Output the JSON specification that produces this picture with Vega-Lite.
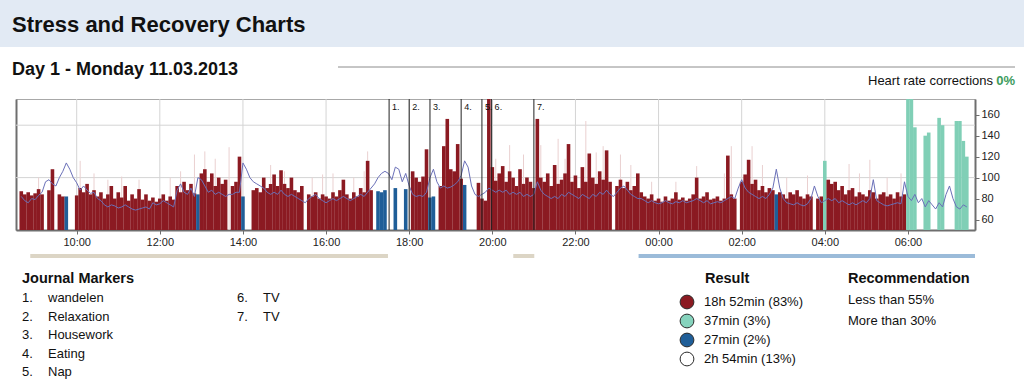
{
"$schema": "https://vega.github.io/schema/vega-lite/v6.json",
"padding": 0,
"background": "white",
"spacing": 0,
"resolve": {"scale": {"color": "independent", "fill": "independent"}},
"config": {
  "font": "Liberation Sans",
  "view": {"stroke": null},
  "title": {"font": "Liberation Sans", "color": "#111111", "anchor": "start", "frame": "group", "offset": 0},
  "axisX": {"format": "%H:%M", "grid": true, "gridColor": "#d4d4d4", "gridWidth": 1, "domainColor": "#6e6e6e", "domainWidth": 2, "tickColor": "#6e6e6e", "tickSize": 4, "labelFontSize": 11, "labelColor": "#222222", "labelPadding": 2, "labelFlush": false, "title": null}
},
"datasets": {
  "series": [
{"t":"2013-03-11T08:40","v":87,"h":82,"c":"S"},
{"t":"2013-03-11T08:45","v":84,"h":78,"c":"S"},
{"t":"2013-03-11T08:50","v":86,"h":76,"c":"S"},
{"t":"2013-03-11T08:55","v":83,"h":80,"c":"S"},
{"t":"2013-03-11T09:00","v":85,"h":79,"c":"S"},
{"t":"2013-03-11T09:05","v":89,"h":83,"c":"S","p":100},
{"t":"2013-03-11T09:10","v":84,"h":86,"c":"S"},
{"t":"2013-03-11T09:15","h":96,"c":"N"},
{"t":"2013-03-11T09:20","v":88,"h":98,"c":"S"},
{"t":"2013-03-11T09:25","v":108,"h":94,"c":"S"},
{"t":"2013-03-11T09:30","h":92,"c":"N"},
{"t":"2013-03-11T09:35","v":84,"h":100,"c":"S"},
{"t":"2013-03-11T09:40","v":82,"h":106,"c":"S"},
{"t":"2013-03-11T09:45","v":82,"h":114,"c":"R"},
{"t":"2013-03-11T09:50","h":108,"c":"N"},
{"t":"2013-03-11T09:55","h":100,"c":"N"},
{"t":"2013-03-11T10:00","v":83,"h":95,"c":"S"},
{"t":"2013-03-11T10:05","v":90,"h":88,"c":"S","p":116},
{"t":"2013-03-11T10:10","v":86,"h":92,"c":"S"},
{"t":"2013-03-11T10:15","v":94,"h":88,"c":"S"},
{"t":"2013-03-11T10:20","v":84,"h":85,"c":"S"},
{"t":"2013-03-11T10:25","v":88,"h":86,"c":"S","p":104},
{"t":"2013-03-11T10:30","v":82,"h":80,"c":"S"},
{"t":"2013-03-11T10:35","v":86,"h":78,"c":"S"},
{"t":"2013-03-11T10:40","v":80,"h":74,"c":"S"},
{"t":"2013-03-11T10:45","v":84,"h":72,"c":"S","p":98},
{"t":"2013-03-11T10:50","v":92,"h":74,"c":"S"},
{"t":"2013-03-11T10:55","v":80,"h":73,"c":"S"},
{"t":"2013-03-11T11:00","v":86,"h":71,"c":"S"},
{"t":"2013-03-11T11:05","v":81,"h":72,"c":"S","p":101},
{"t":"2013-03-11T11:10","v":92,"h":74,"c":"S"},
{"t":"2013-03-11T11:15","v":78,"h":72,"c":"S"},
{"t":"2013-03-11T11:20","v":84,"h":70,"c":"S"},
{"t":"2013-03-11T11:25","v":80,"h":69,"c":"S"},
{"t":"2013-03-11T11:30","v":89,"h":70,"c":"S","p":98},
{"t":"2013-03-11T11:35","v":79,"h":71,"c":"S"},
{"t":"2013-03-11T11:40","v":84,"h":72,"c":"S"},
{"t":"2013-03-11T11:45","v":78,"h":70,"c":"S"},
{"t":"2013-03-11T11:50","v":81,"h":76,"c":"S"},
{"t":"2013-03-11T11:55","v":77,"h":74,"c":"S"},
{"t":"2013-03-11T12:00","v":80,"h":75,"c":"S"},
{"t":"2013-03-11T12:05","v":84,"h":78,"c":"S"},
{"t":"2013-03-11T12:10","v":78,"h":76,"c":"S"},
{"t":"2013-03-11T12:15","v":82,"h":74,"c":"S","p":100},
{"t":"2013-03-11T12:20","v":79,"h":72,"c":"S"},
{"t":"2013-03-11T12:25","v":92,"h":88,"c":"S"},
{"t":"2013-03-11T12:30","v":86,"h":94,"c":"S","p":106},
{"t":"2013-03-11T12:35","v":96,"h":86,"c":"S"},
{"t":"2013-03-11T12:40","v":88,"h":84,"c":"S"},
{"t":"2013-03-11T12:45","v":94,"h":90,"c":"S"},
{"t":"2013-03-11T12:50","v":85,"h":82,"c":"S","p":122},
{"t":"2013-03-11T12:55","v":84,"h":100,"c":"R"},
{"t":"2013-03-11T13:00","v":104,"h":98,"c":"S"},
{"t":"2013-03-11T13:05","v":108,"h":92,"c":"S","p":125},
{"t":"2013-03-11T13:10","v":96,"h":86,"c":"S"},
{"t":"2013-03-11T13:15","v":104,"h":88,"c":"S"},
{"t":"2013-03-11T13:20","v":92,"h":84,"c":"S","p":118},
{"t":"2013-03-11T13:25","v":100,"h":86,"c":"S"},
{"t":"2013-03-11T13:30","v":94,"h":84,"c":"S"},
{"t":"2013-03-11T13:35","v":98,"h":82,"c":"S"},
{"t":"2013-03-11T13:40","h":84,"c":"N","p":129},
{"t":"2013-03-11T13:45","v":92,"h":84,"c":"S"},
{"t":"2013-03-11T13:50","v":96,"h":86,"c":"S"},
{"t":"2013-03-11T13:55","v":120,"h":86,"c":"S"},
{"t":"2013-03-11T14:00","v":82,"h":114,"c":"R"},
{"t":"2013-03-11T14:05","h":108,"c":"N"},
{"t":"2013-03-11T14:10","h":100,"c":"N"},
{"t":"2013-03-11T14:15","v":88,"h":96,"c":"S"},
{"t":"2013-03-11T14:20","v":90,"h":94,"c":"S"},
{"t":"2013-03-11T14:25","v":86,"h":92,"c":"S"},
{"t":"2013-03-11T14:30","v":100,"h":90,"c":"S"},
{"t":"2013-03-11T14:35","v":90,"h":86,"c":"S"},
{"t":"2013-03-11T14:40","v":94,"h":84,"c":"S","p":112},
{"t":"2013-03-11T14:45","v":103,"h":86,"c":"S"},
{"t":"2013-03-11T14:50","v":92,"h":84,"c":"S"},
{"t":"2013-03-11T14:55","v":107,"h":88,"c":"S"},
{"t":"2013-03-11T15:00","v":94,"h":84,"c":"S","p":106},
{"t":"2013-03-11T15:05","v":90,"h":82,"c":"S"},
{"t":"2013-03-11T15:10","v":100,"h":84,"c":"S"},
{"t":"2013-03-11T15:15","v":88,"h":82,"c":"S"},
{"t":"2013-03-11T15:20","v":86,"h":80,"c":"S"},
{"t":"2013-03-11T15:25","v":92,"h":78,"c":"S"},
{"t":"2013-03-11T15:30","h":76,"c":"N"},
{"t":"2013-03-11T15:35","v":84,"h":80,"c":"S"},
{"t":"2013-03-11T15:40","v":82,"h":82,"c":"S","p":100},
{"t":"2013-03-11T15:45","v":86,"h":84,"c":"S"},
{"t":"2013-03-11T15:50","v":80,"h":80,"c":"S"},
{"t":"2013-03-11T15:55","v":84,"h":78,"c":"S","p":103},
{"t":"2013-03-11T16:00","v":82,"h":76,"c":"S"},
{"t":"2013-03-11T16:05","v":80,"h":78,"c":"S"},
{"t":"2013-03-11T16:10","v":86,"h":80,"c":"S","p":104},
{"t":"2013-03-11T16:15","v":82,"h":78,"c":"S"},
{"t":"2013-03-11T16:20","v":88,"h":80,"c":"S"},
{"t":"2013-03-11T16:25","v":98,"h":82,"c":"S"},
{"t":"2013-03-11T16:30","v":84,"h":80,"c":"S"},
{"t":"2013-03-11T16:35","v":80,"h":78,"c":"S"},
{"t":"2013-03-11T16:40","v":86,"h":80,"c":"S","p":100},
{"t":"2013-03-11T16:45","v":82,"h":82,"c":"S"},
{"t":"2013-03-11T16:50","v":90,"h":84,"c":"S"},
{"t":"2013-03-11T16:55","v":86,"h":82,"c":"S","p":106},
{"t":"2013-03-11T17:00","v":116,"h":86,"c":"S","p":125},
{"t":"2013-03-11T17:05","v":88,"h":90,"c":"S"},
{"t":"2013-03-11T17:10","h":94,"c":"N"},
{"t":"2013-03-11T17:15","v":87,"h":100,"c":"R"},
{"t":"2013-03-11T17:20","v":86,"h":104,"c":"R"},
{"t":"2013-03-11T17:25","v":88,"h":106,"c":"R"},
{"t":"2013-03-11T17:30","h":104,"c":"N"},
{"t":"2013-03-11T17:35","h":98,"c":"N"},
{"t":"2013-03-11T17:40","v":90,"h":110,"c":"R"},
{"t":"2013-03-11T17:45","h":108,"c":"N"},
{"t":"2013-03-11T17:50","h":96,"c":"N"},
{"t":"2013-03-11T17:55","v":89,"h":104,"c":"R"},
{"t":"2013-03-11T18:00","h":92,"c":"N"},
{"t":"2013-03-11T18:05","v":106,"h":84,"c":"S"},
{"t":"2013-03-11T18:10","v":100,"h":82,"c":"S"},
{"t":"2013-03-11T18:15","v":96,"h":83,"c":"S"},
{"t":"2013-03-11T18:20","v":101,"h":82,"c":"S"},
{"t":"2013-03-11T18:25","v":127,"h":86,"c":"S"},
{"t":"2013-03-11T18:30","v":81,"h":100,"c":"R"},
{"t":"2013-03-11T18:35","v":82,"h":108,"c":"R"},
{"t":"2013-03-11T18:40","h":96,"c":"N"},
{"t":"2013-03-11T18:45","v":92,"h":90,"c":"S"},
{"t":"2013-03-11T18:50","v":130,"h":92,"c":"S"},
{"t":"2013-03-11T18:55","v":156,"h":90,"c":"S"},
{"t":"2013-03-11T19:00","v":108,"h":91,"c":"S"},
{"t":"2013-03-11T19:05","v":106,"h":93,"c":"S"},
{"t":"2013-03-11T19:10","v":132,"h":96,"c":"S"},
{"t":"2013-03-11T19:15","v":99,"h":102,"c":"S"},
{"t":"2013-03-11T19:20","v":93,"h":116,"c":"R"},
{"t":"2013-03-11T19:25","h":110,"c":"N"},
{"t":"2013-03-11T19:30","h":92,"c":"N"},
{"t":"2013-03-11T19:35","h":84,"c":"N"},
{"t":"2013-03-11T19:40","v":95,"h":82,"c":"S"},
{"t":"2013-03-11T19:45","v":80,"h":84,"c":"S"},
{"t":"2013-03-11T19:50","v":78,"h":86,"c":"S"},
{"t":"2013-03-11T19:55","v":175,"h":90,"c":"S"},
{"t":"2013-03-11T20:00","v":110,"h":88,"c":"S"},
{"t":"2013-03-11T20:05","v":97,"h":86,"c":"S","p":118},
{"t":"2013-03-11T20:10","v":104,"h":88,"c":"S"},
{"t":"2013-03-11T20:15","v":111,"h":86,"c":"S"},
{"t":"2013-03-11T20:20","v":96,"h":88,"c":"S"},
{"t":"2013-03-11T20:25","v":106,"h":84,"c":"S","p":131},
{"t":"2013-03-11T20:30","v":100,"h":86,"c":"S"},
{"t":"2013-03-11T20:35","v":92,"h":84,"c":"S"},
{"t":"2013-03-11T20:40","v":108,"h":86,"c":"S"},
{"t":"2013-03-11T20:45","v":94,"h":82,"c":"S","p":122},
{"t":"2013-03-11T20:50","v":100,"h":84,"c":"S"},
{"t":"2013-03-11T20:55","v":96,"h":82,"c":"S"},
{"t":"2013-03-11T21:00","v":90,"h":84,"c":"S"},
{"t":"2013-03-11T21:05","v":156,"h":96,"c":"S"},
{"t":"2013-03-11T21:10","v":100,"h":88,"c":"S","p":131},
{"t":"2013-03-11T21:15","v":96,"h":84,"c":"S"},
{"t":"2013-03-11T21:20","v":104,"h":82,"c":"S"},
{"t":"2013-03-11T21:25","v":92,"h":80,"c":"S"},
{"t":"2013-03-11T21:30","v":112,"h":82,"c":"S"},
{"t":"2013-03-11T21:35","v":94,"h":80,"c":"S","p":137},
{"t":"2013-03-11T21:40","v":98,"h":84,"c":"S"},
{"t":"2013-03-11T21:45","v":104,"h":82,"c":"S","p":118},
{"t":"2013-03-11T21:50","v":132,"h":86,"c":"S"},
{"t":"2013-03-11T21:55","v":96,"h":84,"c":"S"},
{"t":"2013-03-11T22:00","v":102,"h":82,"c":"S"},
{"t":"2013-03-11T22:05","v":90,"h":80,"c":"S"},
{"t":"2013-03-11T22:10","v":110,"h":84,"c":"S"},
{"t":"2013-03-11T22:15","v":96,"h":82,"c":"S","p":154},
{"t":"2013-03-11T22:20","v":123,"h":80,"c":"S"},
{"t":"2013-03-11T22:25","v":100,"h":84,"c":"S"},
{"t":"2013-03-11T22:30","v":94,"h":82,"c":"S","p":124},
{"t":"2013-03-11T22:35","v":106,"h":86,"c":"S"},
{"t":"2013-03-11T22:40","v":98,"h":84,"c":"S","p":130},
{"t":"2013-03-11T22:45","v":126,"h":88,"c":"S"},
{"t":"2013-03-11T22:50","v":96,"h":84,"c":"S"},
{"t":"2013-03-11T22:55","h":82,"c":"N"},
{"t":"2013-03-11T23:00","v":92,"h":86,"c":"S"},
{"t":"2013-03-11T23:05","v":98,"h":90,"c":"S","p":122},
{"t":"2013-03-11T23:10","v":90,"h":92,"c":"S"},
{"t":"2013-03-11T23:15","v":96,"h":88,"c":"S"},
{"t":"2013-03-11T23:20","v":88,"h":84,"c":"S","p":112},
{"t":"2013-03-11T23:25","v":92,"h":82,"c":"S"},
{"t":"2013-03-11T23:30","v":104,"h":80,"c":"S"},
{"t":"2013-03-11T23:35","v":86,"h":80,"c":"S"},
{"t":"2013-03-11T23:40","v":82,"h":78,"c":"S"},
{"t":"2013-03-11T23:45","v":80,"h":76,"c":"S"},
{"t":"2013-03-11T23:50","v":84,"h":78,"c":"S","p":96},
{"t":"2013-03-11T23:55","v":78,"h":76,"c":"S"},
{"t":"2013-03-12T00:00","v":80,"h":75,"c":"S"},
{"t":"2013-03-12T00:05","v":77,"h":76,"c":"S"},
{"t":"2013-03-12T00:10","v":82,"h":78,"c":"S"},
{"t":"2013-03-12T00:15","v":78,"h":76,"c":"S"},
{"t":"2013-03-12T00:20","v":80,"h":75,"c":"S"},
{"t":"2013-03-12T00:25","v":86,"h":77,"c":"S","p":96},
{"t":"2013-03-12T00:30","v":79,"h":76,"c":"S"},
{"t":"2013-03-12T00:35","v":81,"h":78,"c":"S"},
{"t":"2013-03-12T00:40","v":78,"h":76,"c":"S"},
{"t":"2013-03-12T00:45","v":80,"h":77,"c":"S"},
{"t":"2013-03-12T00:50","v":84,"h":78,"c":"S"},
{"t":"2013-03-12T00:55","v":100,"h":80,"c":"S","p":111},
{"t":"2013-03-12T01:00","v":80,"h":78,"c":"S"},
{"t":"2013-03-12T01:05","v":82,"h":76,"c":"S"},
{"t":"2013-03-12T01:10","v":86,"h":78,"c":"S"},
{"t":"2013-03-12T01:15","v":79,"h":75,"c":"S"},
{"t":"2013-03-12T01:20","v":80,"h":76,"c":"S"},
{"t":"2013-03-12T01:25","v":82,"h":77,"c":"S"},
{"t":"2013-03-12T01:30","v":78,"h":76,"c":"S"},
{"t":"2013-03-12T01:35","v":80,"h":78,"c":"S","p":104},
{"t":"2013-03-12T01:40","v":121,"h":80,"c":"S"},
{"t":"2013-03-12T01:45","v":84,"h":82,"c":"S","p":130},
{"t":"2013-03-12T01:50","v":80,"h":80,"c":"S"},
{"t":"2013-03-12T01:55","h":90,"c":"N"},
{"t":"2013-03-12T02:00","v":96,"h":98,"c":"S"},
{"t":"2013-03-12T02:05","v":103,"h":90,"c":"S"},
{"t":"2013-03-12T02:10","v":117,"h":86,"c":"S"},
{"t":"2013-03-12T02:15","v":94,"h":84,"c":"S","p":130},
{"t":"2013-03-12T02:20","v":98,"h":82,"c":"S"},
{"t":"2013-03-12T02:25","v":88,"h":80,"c":"S"},
{"t":"2013-03-12T02:30","v":92,"h":82,"c":"S","p":112},
{"t":"2013-03-12T02:35","v":86,"h":80,"c":"S"},
{"t":"2013-03-12T02:40","v":90,"h":84,"c":"S"},
{"t":"2013-03-12T02:45","v":88,"h":90,"c":"S"},
{"t":"2013-03-12T02:50","v":84,"h":108,"c":"R"},
{"t":"2013-03-12T02:55","v":86,"h":90,"c":"S"},
{"t":"2013-03-12T03:00","v":84,"h":80,"c":"S"},
{"t":"2013-03-12T03:05","v":80,"h":76,"c":"S","p":100},
{"t":"2013-03-12T03:10","v":86,"h":75,"c":"S"},
{"t":"2013-03-12T03:15","v":84,"h":74,"c":"S"},
{"t":"2013-03-12T03:20","v":88,"h":76,"c":"S"},
{"t":"2013-03-12T03:25","v":82,"h":74,"c":"S"},
{"t":"2013-03-12T03:30","v":80,"h":73,"c":"S"},
{"t":"2013-03-12T03:35","v":84,"h":75,"c":"S","p":102},
{"t":"2013-03-12T03:40","v":82,"h":80,"c":"S"},
{"t":"2013-03-12T03:45","h":92,"c":"N"},
{"t":"2013-03-12T03:50","v":80,"h":82,"c":"S"},
{"t":"2013-03-12T03:55","v":82,"h":76,"c":"S"},
{"t":"2013-03-12T04:00","v":116,"h":78,"c":"A"},
{"t":"2013-03-12T04:05","v":98,"h":80,"c":"S"},
{"t":"2013-03-12T04:10","v":94,"h":78,"c":"S"},
{"t":"2013-03-12T04:15","v":96,"h":80,"c":"S"},
{"t":"2013-03-12T04:20","v":88,"h":76,"c":"S"},
{"t":"2013-03-12T04:25","v":92,"h":78,"c":"S"},
{"t":"2013-03-12T04:30","v":84,"h":76,"c":"S"},
{"t":"2013-03-12T04:35","v":88,"h":74,"c":"S","p":113},
{"t":"2013-03-12T04:40","v":90,"h":76,"c":"S"},
{"t":"2013-03-12T04:45","v":82,"h":74,"c":"S"},
{"t":"2013-03-12T04:50","v":86,"h":76,"c":"S","p":104},
{"t":"2013-03-12T04:55","v":84,"h":78,"c":"S"},
{"t":"2013-03-12T05:00","v":82,"h":76,"c":"S"},
{"t":"2013-03-12T05:05","v":88,"h":80,"c":"S","p":117},
{"t":"2013-03-12T05:10","v":86,"h":98,"c":"S"},
{"t":"2013-03-12T05:15","v":80,"h":78,"c":"S"},
{"t":"2013-03-12T05:20","v":84,"h":76,"c":"S"},
{"t":"2013-03-12T05:25","v":86,"h":74,"c":"S"},
{"t":"2013-03-12T05:30","v":82,"h":73,"c":"S","p":100},
{"t":"2013-03-12T05:35","v":84,"h":74,"c":"S"},
{"t":"2013-03-12T05:40","v":80,"h":75,"c":"S"},
{"t":"2013-03-12T05:45","v":86,"h":76,"c":"S"},
{"t":"2013-03-12T05:50","v":82,"h":75,"c":"S","p":104},
{"t":"2013-03-12T05:55","v":84,"h":96,"c":"S"},
{"t":"2013-03-12T06:00","v":175,"h":82,"c":"A"},
{"t":"2013-03-12T06:05","v":175,"h":78,"c":"A"},
{"t":"2013-03-12T06:10","v":148,"h":84,"c":"A"},
{"t":"2013-03-12T06:15","h":76,"c":"N"},
{"t":"2013-03-12T06:20","h":80,"c":"N"},
{"t":"2013-03-12T06:25","v":140,"h":72,"c":"A"},
{"t":"2013-03-12T06:30","v":143,"h":78,"c":"A"},
{"t":"2013-03-12T06:35","h":74,"c":"N"},
{"t":"2013-03-12T06:40","h":70,"c":"N"},
{"t":"2013-03-12T06:45","v":157,"h":76,"c":"A"},
{"t":"2013-03-12T06:50","v":150,"h":72,"c":"A"},
{"t":"2013-03-12T06:55","h":84,"c":"N"},
{"t":"2013-03-12T07:00","h":92,"c":"N"},
{"t":"2013-03-12T07:05","h":80,"c":"N"},
{"t":"2013-03-12T07:10","v":154,"h":72,"c":"A"},
{"t":"2013-03-12T07:15","v":154,"h":70,"c":"A"},
{"t":"2013-03-12T07:20","v":135,"h":74,"c":"A"},
{"t":"2013-03-12T07:25","v":120,"h":72,"c":"A"}
  ],
  "markers": [
    {"id": 1, "n": "1.", "t": "2013-03-11T17:31", "label": "wandelen"},
    {"id": 2, "n": "2.", "t": "2013-03-11T18:00", "label": "Relaxation"},
    {"id": 3, "n": "3.", "t": "2013-03-11T18:30", "label": "Housework"},
    {"id": 4, "n": "4.", "t": "2013-03-11T19:15", "label": "Eating"},
    {"id": 5, "n": "5.", "t": "2013-03-11T19:45", "label": "Nap"},
    {"id": 6, "n": "6.", "t": "2013-03-11T19:59", "label": "TV"},
    {"id": 7, "n": "7.", "t": "2013-03-11T21:00", "label": "TV"}
  ],
  "bands": [
    {"s": "2013-03-11T09:00", "e": "2013-03-11T17:31", "k": "work"},
    {"s": "2013-03-11T20:30", "e": "2013-03-11T21:00", "k": "work"},
    {"s": "2013-03-11T23:29", "e": "2013-03-12T07:29:36", "k": "sleep"}
  ],
  "grid": [{"g": 100}, {"g": 150}],
  "ticks": [
    {"t": "2013-03-11T10:00"}, {"t": "2013-03-11T12:00"}, {"t": "2013-03-11T14:00"}, {"t": "2013-03-11T16:00"},
    {"t": "2013-03-11T18:00"}, {"t": "2013-03-11T20:00"}, {"t": "2013-03-11T22:00"}, {"t": "2013-03-12T00:00"},
    {"t": "2013-03-12T02:00"}, {"t": "2013-03-12T04:00"}, {"t": "2013-03-12T06:00"}
  ],
  "result": [
    {"i": 0, "c": "S", "label": "18h 52min (83%)"},
    {"i": 1, "c": "A", "label": "37min (3%)"},
    {"i": 2, "c": "R", "label": "27min (2%)"},
    {"i": 3, "c": "N", "label": "2h 54min (13%)"}
  ],
  "reco": [
    {"i": 0, "c": "S", "r": "Less than 55%"},
    {"i": 1, "c": "R", "r": "More than 30%"}
  ]
},
"vconcat": [
  {
    "width": 1024, "height": 47,
    "view": {"fill": "#e2eaf4", "stroke": null},
    "title": {"text": "Stress and Recovery Charts", "fontSize": 22, "fontWeight": "bold", "dx": 12, "dy": 41},
    "data": {"values": [{}]},
    "mark": {"type": "text", "text": ""},
    "encoding": {}
  },
  {
    "hconcat": [
      {
        "width": 338, "height": 51,
        "title": {"text": "Day 1 - Monday 11.03.2013", "fontSize": 18, "fontWeight": "bold", "dx": 12, "dy": 36},
        "data": {"values": [{}]},
        "mark": {"type": "text", "text": ""},
        "encoding": {}
      },
      {
        "width": 655, "height": 51,
        "title": {"text": "Heart rate corrections", "anchor": "end", "fontSize": 13, "fontWeight": "normal", "dy": 45},
        "data": {"values": [{}]},
        "mark": {"type": "rule", "color": "#8c8c8c", "strokeWidth": 1},
        "encoding": {"y": {"datum": 20, "type": "quantitative", "scale": {"domain": [0, 51], "range": [0, 51], "nice": false, "zero": false}, "axis": null}}
      },
      {
        "width": 22, "height": 51,
        "title": {"text": "0%", "anchor": "end", "fontSize": 13, "fontWeight": "bold", "color": "#3d9b5c", "dy": 45},
        "data": {"values": [{}]},
        "mark": {"type": "rule", "color": "#8c8c8c", "strokeWidth": 1},
        "encoding": {"y": {"datum": 20, "type": "quantitative", "scale": {"domain": [0, 51], "range": [0, 51], "nice": false, "zero": false}, "axis": null}}
      }
    ],
    "spacing": 0, "bounds": "flush"
  },
  {
    "hconcat": [
      {"width": 16, "height": 131, "data": {"values": [{}]}, "mark": {"type": "text", "text": ""}, "encoding": {}},
      {
        "vconcat": [
          {
            "width": 959, "height": 131,
            "view": {"stroke": "#a8a8a8", "strokeWidth": 1},
            "layer": [
              {
                "data": {"name": "grid"},
                "mark": {"type": "rule", "color": "#d4d4d4", "strokeWidth": 1},
                "encoding": {"y": {"field": "g", "type": "quantitative", "scale": {"domain": [50, 175], "nice": false, "zero": false},
                  "axis": {"orient": "left", "labels": false, "ticks": false, "grid": false, "domainColor": "#6e6e6e", "domainWidth": 2, "title": null}}}
              },
              {
                "data": {"name": "ticks"},
                "mark": {"type": "rule", "color": "#d4d4d4", "strokeWidth": 1},
                "encoding": {
                  "x": {"field": "t", "type": "temporal", "scale": {"domain": [{"year": 2013, "month": 3, "date": 11, "hours": 8, "minutes": 39, "seconds": 36}, {"year": 2013, "month": 3, "date": 12, "hours": 7, "minutes": 29, "seconds": 36}], "nice": false},
                    "axis": {"orient": "bottom", "format": "%H:%M", "values": [
                        {"year": 2013, "month": 3, "date": 11, "hours": 10},
                        {"year": 2013, "month": 3, "date": 11, "hours": 12},
                        {"year": 2013, "month": 3, "date": 11, "hours": 14},
                        {"year": 2013, "month": 3, "date": 11, "hours": 16},
                        {"year": 2013, "month": 3, "date": 11, "hours": 18},
                        {"year": 2013, "month": 3, "date": 11, "hours": 20},
                        {"year": 2013, "month": 3, "date": 11, "hours": 22},
                        {"year": 2013, "month": 3, "date": 12, "hours": 0},
                        {"year": 2013, "month": 3, "date": 12, "hours": 2},
                        {"year": 2013, "month": 3, "date": 12, "hours": 4},
                        {"year": 2013, "month": 3, "date": 12, "hours": 6}
                      ], "grid": false, "domainColor": "#6e6e6e", "domainWidth": 2, "tickColor": "#6e6e6e", "tickSize": 4, "labelFontSize": 11, "labelColor": "#222222", "labelPadding": 2, "labelFlush": false, "title": null}}
                }
              },
              {
                "data": {"name": "series"},
                "transform": [{"filter": "datum.p != null"}],
                "mark": {"type": "rule", "color": "#ead0d0", "strokeWidth": 1},
                "encoding": {
                  "x": {"field": "t", "type": "temporal"},
                  "y": {"field": "p", "type": "quantitative", "scale": {"domain": [50, 175], "nice": false, "zero": false}, "axis": null},
                  "y2": {"datum": 50}
                }
              },
              {
                "data": {"name": "series"},
                "transform": [{"filter": "datum.v != null"}],
                "mark": {"type": "bar", "width": 3.6},
                "encoding": {
                  "x": {"field": "t", "type": "temporal"},
                  "y": {"field": "v", "type": "quantitative", "scale": {"domain": [50, 175], "nice": false, "zero": false},
                    "axis": {"orient": "right", "values": [60, 80, 100, 120, 140, 160], "grid": false, "domainColor": "#6e6e6e", "domainWidth": 2, "tickColor": "#6e6e6e", "tickSize": 4, "labelFontSize": 11, "labelColor": "#222222", "labelPadding": 2, "title": null}},
                  "y2": {"datum": 50},
                  "color": {"field": "c", "type": "nominal", "scale": {"domain": ["S", "A", "R", "N"], "range": ["#8b1a22", "#80cfb6", "#1f5e98", "#ffffff"]}, "legend": null}
                }
              },
              {
                "data": {"name": "series"},
                "mark": {"type": "line", "color": "#6a70b8", "strokeWidth": 1},
                "encoding": {
                  "x": {"field": "t", "type": "temporal"},
                  "y": {"field": "h", "type": "quantitative", "scale": {"domain": [50, 175], "nice": false, "zero": false}, "axis": null}
                }
              },
              {
                "data": {"name": "markers"},
                "mark": {"type": "rule", "color": "#222222", "strokeWidth": 1},
                "encoding": {
                  "x": {"field": "t", "type": "temporal"}
                }
              },
              {
                "data": {"name": "markers"},
                "mark": {"type": "text", "align": "left", "baseline": "top", "dx": 3, "dy": 4, "fontSize": 9, "color": "#111111"},
                "encoding": {
                  "x": {"field": "t", "type": "temporal"},
                  "y": {"datum": 175, "type": "quantitative", "scale": {"domain": [50, 175], "nice": false, "zero": false}, "axis": null},
                  "text": {"field": "n"}
                }
              }
            ],
            "resolve": {"axis": {"y": "independent"}}
          },
          {"width": 1, "height": 24, "data": {"values": [{}]}, "mark": {"type": "text", "text": ""}, "encoding": {}},
          {
            "width": 959, "height": 4,
            "data": {"name": "bands"},
            "mark": {"type": "rect"},
            "encoding": {
              "x": {"field": "s", "type": "temporal", "scale": {"domain": [{"year": 2013, "month": 3, "date": 11, "hours": 8, "minutes": 39, "seconds": 36}, {"year": 2013, "month": 3, "date": 12, "hours": 7, "minutes": 29, "seconds": 36}], "nice": false}, "axis": null},
              "x2": {"field": "e"},
              "color": {"field": "k", "type": "nominal", "scale": {"domain": ["work", "sleep"], "range": ["#dcd5c5", "#9bbbd9"]}, "legend": null}
            }
          }
        ],
        "spacing": 0, "bounds": "flush",
        "resolve": {"scale": {"color": "independent"}}
      }
    ],
    "spacing": 0, "bounds": "flush",
    "resolve": {"scale": {"color": "independent"}}
  },
  {"width": 1, "height": 12, "data": {"values": [{}]}, "mark": {"type": "text", "text": ""}, "encoding": {}},
  {
    "hconcat": [
      {"width": 22, "height": 90, "data": {"values": [{}]}, "mark": {"type": "text", "text": ""}, "encoding": {}},
      {
        "width": 665, "height": 90,
        "title": {"text": "Journal Markers", "fontSize": 14.5, "fontWeight": "bold", "offset": 4},
        "data": {"name": "markers"},
        "transform": [
          {"calculate": "datum.id > 5 ? 1 : 0", "as": "col"},
          {"calculate": "(datum.id - 1) % 5", "as": "row"}
        ],
        "layer": [
          {
            "mark": {"type": "text", "align": "left", "baseline": "middle", "fontSize": 13, "color": "#111111"},
            "encoding": {
              "x": {"field": "col", "type": "quantitative", "scale": {"domain": [0, 1], "range": [0, 215], "nice": false, "zero": false}, "axis": null},
              "y": {"field": "row", "type": "quantitative", "scale": {"domain": [0, 4], "range": [8, 82], "nice": false, "zero": false}, "axis": null},
              "text": {"field": "n"}
            }
          },
          {
            "mark": {"type": "text", "align": "left", "baseline": "middle", "fontSize": 13, "color": "#111111", "dx": 26},
            "encoding": {
              "x": {"field": "col", "type": "quantitative", "scale": {"domain": [0, 1], "range": [0, 215], "nice": false, "zero": false}, "axis": null},
              "y": {"field": "row", "type": "quantitative", "scale": {"domain": [0, 4], "range": [8, 82], "nice": false, "zero": false}, "axis": null},
              "text": {"field": "label"}
            }
          }
        ]
      },
      {
        "width": 161, "height": 90,
        "title": {"text": "Result", "fontSize": 14.5, "fontWeight": "bold", "offset": 4, "dx": 18},
        "data": {"name": "result"},
        "layer": [
          {
            "mark": {"type": "point", "shape": "circle", "filled": true, "size": 190, "stroke": "#2a2a2a", "strokeWidth": 1, "opacity": 1},
            "encoding": {
              "x": {"datum": 0, "type": "quantitative", "scale": {"domain": [0, 1], "nice": false, "zero": false}, "axis": null},
              "y": {"field": "i", "type": "quantitative", "scale": {"domain": [0, 3], "range": [12, 69], "nice": false, "zero": false}, "axis": null},
              "fill": {"field": "c", "type": "nominal", "scale": {"domain": ["S", "A", "R", "N"], "range": ["#8b1a22", "#86d3bd", "#1f5e98", "#ffffff"]}, "legend": null}
            }
          },
          {
            "mark": {"type": "text", "align": "left", "baseline": "middle", "fontSize": 13, "color": "#111111", "dx": 17},
            "encoding": {
              "x": {"datum": 0, "type": "quantitative", "scale": {"domain": [0, 1], "nice": false, "zero": false}, "axis": null},
              "y": {"field": "i", "type": "quantitative", "scale": {"domain": [0, 3], "range": [12, 69], "nice": false, "zero": false}, "axis": null},
              "text": {"field": "label"}
            }
          }
        ]
      },
      {
        "width": 176, "height": 90,
        "title": {"text": "Recommendation", "fontSize": 14.5, "fontWeight": "bold", "offset": 4},
        "data": {"name": "reco"},
        "mark": {"type": "text", "align": "left", "baseline": "middle", "fontSize": 13, "color": "#111111"},
        "encoding": {
          "x": {"datum": 0, "type": "quantitative", "scale": {"domain": [0, 1], "nice": false, "zero": false}, "axis": null},
          "y": {"field": "i", "type": "quantitative", "scale": {"domain": [0, 1], "range": [10, 31], "nice": false, "zero": false}, "axis": null},
          "text": {"field": "r"}
        }
      }
    ],
    "spacing": 0, "bounds": "flush"
  }
]
}
